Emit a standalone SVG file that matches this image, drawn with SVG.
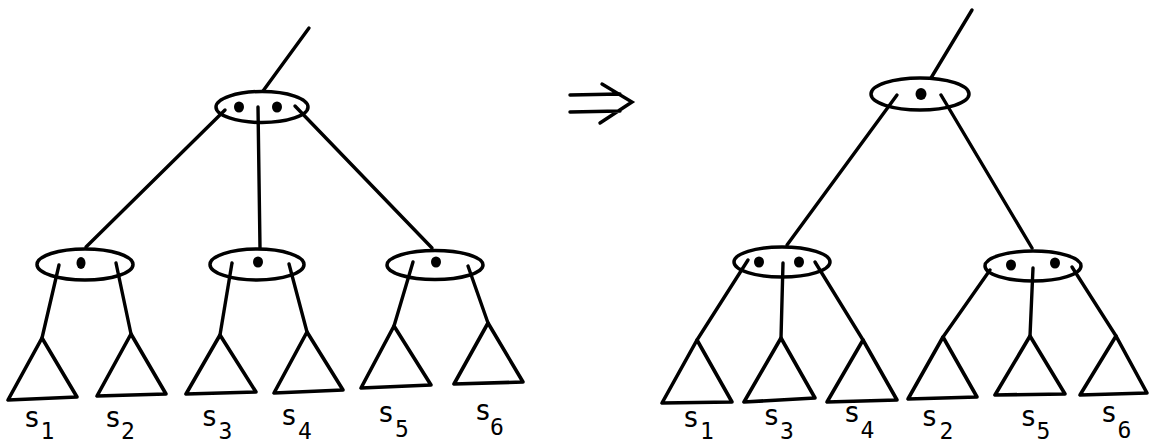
<svg xmlns="http://www.w3.org/2000/svg" width="1150" height="444" viewBox="0 0 1150 444">
<style>
.n{fill:none;stroke:#000;stroke-width:3.5}
.d{fill:#000;stroke:none}
.t{fill:none;stroke:#000;stroke-width:3.6;stroke-linejoin:round}
.c{fill:none;stroke:#000;stroke-width:3.4;stroke-linecap:round}
.s{font-family:"DejaVu Sans Mono","Liberation Mono",monospace;font-size:28px;fill:#000;text-anchor:middle}
.i{font-family:"DejaVu Sans Mono","Liberation Mono",monospace;font-size:23px;fill:#000;text-anchor:middle}
</style>
<rect width="1150" height="444" fill="#fff"/>
<g id="connectors">
<path class="c" d="M263,91 L309,28"/>
<path class="c" d="M225,110 L86,247"/>
<path class="c" d="M258,107 L260,248"/>
<path class="c" d="M295,106 L432,248"/>
<path class="c" d="M59,265 L42,338"/>
<path class="c" d="M116,263 L131,334"/>
<path class="c" d="M232,263 L220,335"/>
<path class="c" d="M289,264 L307,332"/>
<path class="c" d="M413,262 L394,326"/>
<path class="c" d="M468,266 L488,323"/>
<path class="c" d="M931,78 L972,10"/>
<path class="c" d="M897,95 L787,245"/>
<path class="c" d="M941,95 L1032,248"/>
<path class="c" d="M748,260 L697,340"/>
<path class="c" d="M783,263 L781,338"/>
<path class="c" d="M815,262 L863,340"/>
<path class="c" d="M990,270 L943,337"/>
<path class="c" d="M1033,268 L1030,336"/>
<path class="c" d="M1072,267 L1116,336"/>
</g>
<g id="arrow">
<path class="c" d="M570,95 L620,94 M570,112 L620,111 M602,84 L632,102 L600,123" stroke-width="3.8"/>
</g>
<g id="L-root"><ellipse class="n" cx="262" cy="107" rx="46" ry="15.5"/><ellipse class="d" cx="239" cy="107" rx="5" ry="5.5"/><ellipse class="d" cx="277" cy="107" rx="5" ry="5.5"/></g>
<g id="L-c1"><ellipse class="n" cx="85" cy="264.5" rx="48" ry="15.5"/><ellipse class="d" cx="81" cy="263" rx="4.5" ry="6"/></g>
<g id="L-c2"><ellipse class="n" cx="257" cy="264.5" rx="47" ry="15.5"/><ellipse class="d" cx="258" cy="262" rx="5" ry="5.5"/></g>
<g id="L-c3"><ellipse class="n" cx="435" cy="265" rx="48" ry="14.5"/><ellipse class="d" cx="436" cy="262" rx="5" ry="5.5"/></g>
<g id="L-s1"><polygon class="t" points="42,338 8,400 77,397"/><text class="s" x="32" y="427">s</text><text class="i" x="47.5" y="439">1</text></g>
<g id="L-s2"><polygon class="t" points="131,334 97,396 166,394"/><text class="s" x="113" y="427">s</text><text class="i" x="128" y="439">2</text></g>
<g id="L-s3"><polygon class="t" points="220,335 186,394 256,392"/><text class="s" x="209.5" y="426">s</text><text class="i" x="225.5" y="439">3</text></g>
<g id="L-s4"><polygon class="t" points="307,332 274,393 343,390"/><text class="s" x="289" y="425">s</text><text class="i" x="305" y="439">4</text></g>
<g id="L-s5"><polygon class="t" points="394,326 361,388 431,385"/><text class="s" x="386" y="422">s</text><text class="i" x="402" y="437">5</text></g>
<g id="L-s6"><polygon class="t" points="488,323 454,384 523,382"/><text class="s" x="483" y="420">s</text><text class="i" x="497" y="435">6</text></g>
<g id="R-root"><ellipse class="n" cx="920" cy="94" rx="49" ry="16"/><ellipse class="d" cx="921" cy="94" rx="5.5" ry="6"/></g>
<g id="R-c1"><ellipse class="n" cx="782" cy="262" rx="48" ry="15"/><ellipse class="d" cx="759" cy="262" rx="5" ry="5.5"/><ellipse class="d" cx="799" cy="262" rx="5" ry="5.5"/></g>
<g id="R-c2"><ellipse class="n" cx="1033" cy="266" rx="48" ry="15"/><ellipse class="d" cx="1011" cy="265" rx="5" ry="5.5"/><ellipse class="d" cx="1055" cy="263" rx="5" ry="5.5"/></g>
<g id="R-s1"><polygon class="t" points="697,340 662,403 732,402"/><text class="s" x="691" y="427">s</text><text class="i" x="707" y="439">1</text></g>
<g id="R-s3"><polygon class="t" points="781,338 744,402 815,398"/><text class="s" x="771.5" y="425">s</text><text class="i" x="787" y="439">3</text></g>
<g id="R-s4"><polygon class="t" points="863,340 827,402 897,400"/><text class="s" x="852" y="422">s</text><text class="i" x="867.5" y="438">4</text></g>
<g id="R-s2"><polygon class="t" points="943,337 908,399 977,397"/><text class="s" x="929.5" y="426">s</text><text class="i" x="946.5" y="439">2</text></g>
<g id="R-s5"><polygon class="t" points="1030,336 995,395 1065,394"/><text class="s" x="1028.5" y="426">s</text><text class="i" x="1043.5" y="439">5</text></g>
<g id="R-s6"><polygon class="t" points="1116,336 1080,395 1147,393"/><text class="s" x="1109" y="422">s</text><text class="i" x="1124.5" y="438">6</text></g>
</svg>
